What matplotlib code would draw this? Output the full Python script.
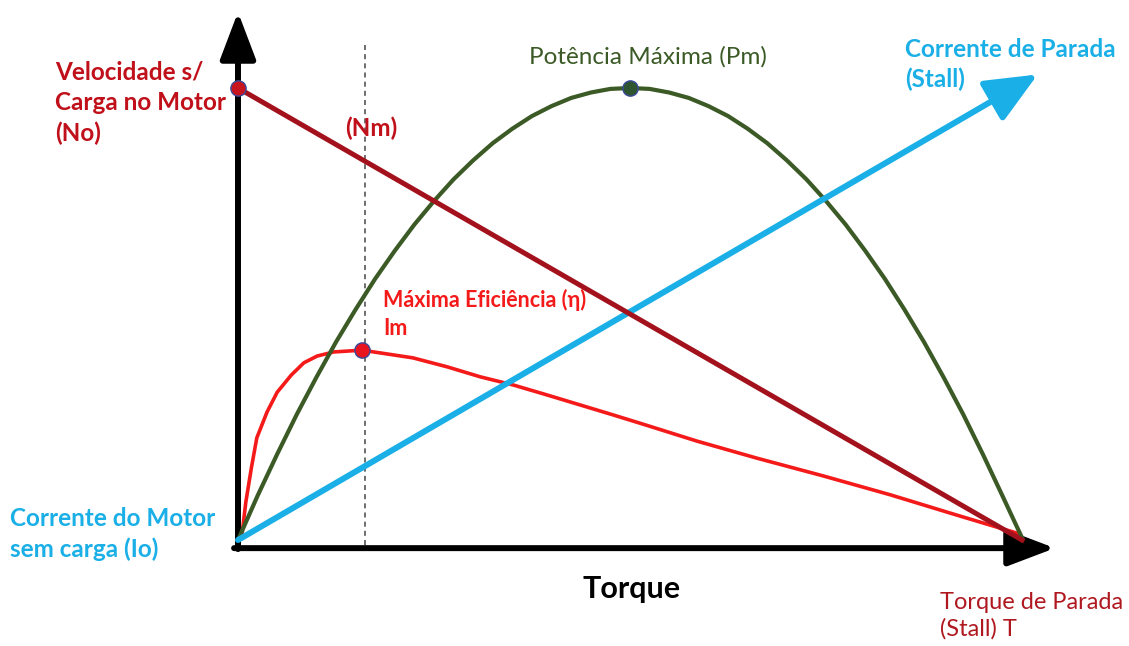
import matplotlib.pyplot as plt

plt.rcParams['font.family'] = ['Lato', 'DejaVu Sans']

# torque normalised to stall torque, curves normalised to their peak
torque_speed = [0.0, 1.0]
speed = [1.0, 0.0]

torque_power = [0.0, 0.025, 0.05, 0.075, 0.1, 0.125, 0.15, 0.175, 0.2, 0.225,
                0.25, 0.275, 0.3, 0.325, 0.35, 0.375, 0.4, 0.425, 0.45, 0.475,
                0.5, 0.525, 0.55, 0.575, 0.6, 0.625, 0.65, 0.675, 0.7, 0.725,
                0.75, 0.775, 0.8, 0.825, 0.85, 0.875, 0.9, 0.925, 0.95, 0.975, 1.0]
power = [0.0, 0.098, 0.19, 0.278, 0.36, 0.438, 0.51, 0.578, 0.64, 0.698,
         0.75, 0.798, 0.84, 0.878, 0.91, 0.938, 0.96, 0.978, 0.99, 0.998,
         1.0, 0.998, 0.99, 0.978, 0.96, 0.938, 0.91, 0.878, 0.84, 0.798,
         0.75, 0.698, 0.64, 0.578, 0.51, 0.438, 0.36, 0.278, 0.19, 0.098, 0.005]

torque_current = [0.0, 1.02]
current = [0.0, 1.03]

torque_eff = [0.0, 0.005, 0.010, 0.017, 0.024, 0.037, 0.050, 0.068, 0.084, 0.101,
              0.122, 0.158, 0.181, 0.223, 0.267, 0.309, 0.351, 0.394, 0.436, 0.478,
              0.519, 0.585, 0.662, 0.746, 0.832, 0.917, 0.994, 1.0]
eff = [0.0, 0.011, 0.084, 0.159, 0.226, 0.283, 0.327, 0.365, 0.392, 0.407,
       0.416, 0.420, 0.414, 0.403, 0.383, 0.361, 0.343, 0.321, 0.299, 0.277,
       0.255, 0.219, 0.181, 0.142, 0.100, 0.055, 0.015, 0.004]

W, H = 1129, 646
fig = plt.figure(figsize=(W / 100, H / 100), dpi=100)
ax = fig.add_axes([0, 0, 1, 1])
# origin at pixel (238, 540), unit torque = 784 px, unit value = 452 px
ax.set_xlim(-238 / 784, (W - 238) / 784)
ax.set_ylim((540 - H) / 452, 540 / 452)
ax.axis('off')

DARKRED = '#A3121C'
GREEN = '#3B5A26'
BLUE = '#1AAFE6'
RED = '#F51A1A'
EDGE = '#3A4A9A'


def px(x, y):
    return x / W, 1 - y / H


# axes with arrows
arrow_kw = dict(arrowstyle='-|>,head_length=1.45,head_width=0.55',
                color='black', lw=4.3, shrinkA=0, shrinkB=0, mutation_scale=20)
ax.annotate('', xy=(0, 1.168), xytext=(0, -0.02), arrowprops=arrow_kw)
ax.annotate('', xy=(1.042, -0.018), xytext=(-0.005, -0.018), arrowprops=arrow_kw)

# dashed marker for max efficiency torque
i_eff = eff.index(max(eff))
ax.plot([0.162, 0.162], [-0.01, 1.095], color='#555555', lw=1.2,
        ls=(0, (3, 2.5)), zorder=1)

# curves
ax.plot(torque_eff, eff, color=RED, lw=2.6, solid_capstyle='round',
        solid_joinstyle='round', zorder=3)
ax.plot(torque_power, power, color=GREEN, lw=3.0, solid_joinstyle='round', zorder=3)
ax.annotate('', xy=(torque_current[1], current[1]),
            xytext=(torque_current[0], current[0]),
            arrowprops=dict(arrowstyle='-|>,head_length=1.6,head_width=0.7',
                            color=BLUE, lw=4.3, shrinkA=0, shrinkB=0,
                            mutation_scale=20), zorder=3)
ax.plot(torque_speed, speed, color=DARKRED, lw=3.6, zorder=4)

# key points
i_pow = power.index(max(power))
ax.plot(torque_speed[0], speed[0], 'o', ms=11, mfc='#C8141E', mec=EDGE, mew=1, zorder=5)
ax.plot(torque_power[i_pow], power[i_pow], 'o', ms=11, mfc='#2F5530', mec=EDGE, mew=1, zorder=5)
ax.plot(torque_eff[i_eff], eff[i_eff], 'o', ms=11, mfc='#E8141E', mec=EDGE, mew=1, zorder=5)

# labels
fig.text(*px(55, 60), 'Velocidade s/\nCarga no Motor\n(No)', color='#C0101A',
         fontsize=17.5, fontweight='bold', va='top', ha='left', linespacing=1.4)
fig.text(*px(345, 128), '(Nm)', color='#C0101A', fontsize=17.5,
         fontweight='bold', va='center', ha='left')
fig.text(*px(648, 57), 'Potência Máxima (Pm)', color=GREEN, fontsize=17.5,
         va='center', ha='center')
fig.text(*px(905, 38), 'Corrente de Parada\n(Stall)', color=BLUE, fontsize=17.5,
         fontweight='bold', va='top', ha='left', linespacing=1.35)
fig.text(*px(383, 289), 'Máxima Eficiência (η)\nIm', color=RED, fontsize=15.5,
         fontweight='bold', va='top', ha='left', linespacing=1.4)
fig.text(*px(10, 507), 'Corrente do Motor\nsem carga (Io)', color=BLUE,
         fontsize=17.5, fontweight='bold', va='top', ha='left', linespacing=1.4)
fig.text(*px(632, 589), 'Torque', color='black', fontsize=22,
         fontweight='bold', va='center', ha='center')
fig.text(*px(940, 592), 'Torque de Parada\n(Stall) T', color='#B01820',
         fontsize=17, va='top', ha='left', linespacing=1.3)

fig.savefig('out.png', dpi=100)
